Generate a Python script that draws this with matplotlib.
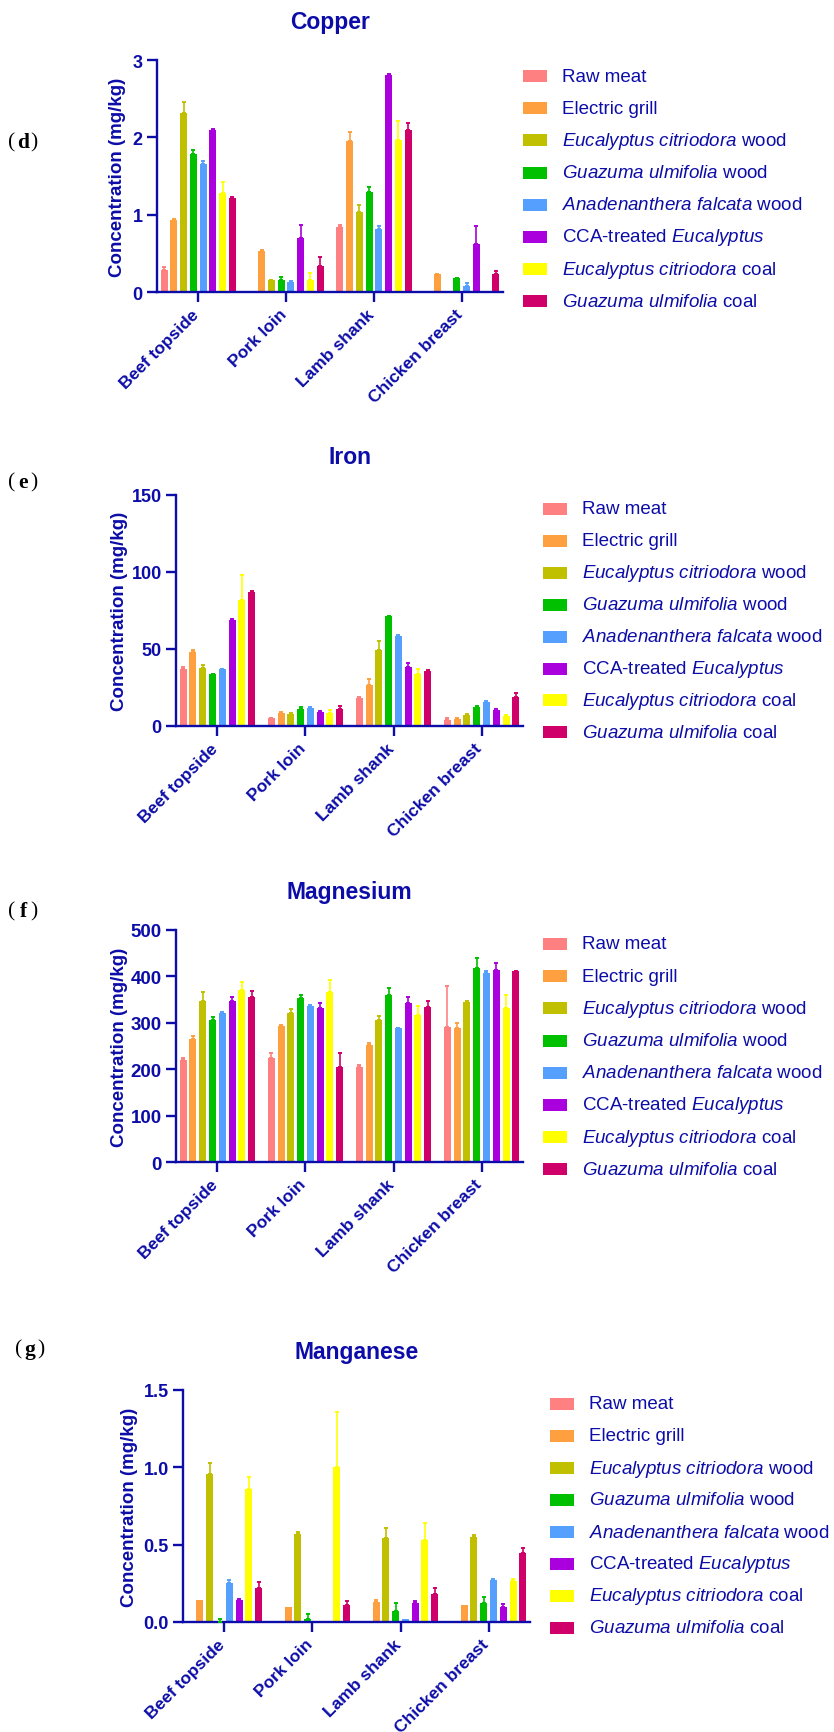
import numpy as np
import matplotlib
matplotlib.use("Agg")
import matplotlib.pyplot as plt
from matplotlib.patches import Rectangle
from matplotlib.transforms import ScaledTranslation

plt.rcParams['font.family'] = ['Liberation Sans', 'DejaVu Sans']
plt.rcParams['mathtext.fontset'] = 'custom'
plt.rcParams['mathtext.rm'] = 'Liberation Sans'
plt.rcParams['mathtext.it'] = 'Liberation Sans:italic'

nan = np.nan
cuts = ["Beef topside", "Pork loin", "Lamb shank", "Chicken breast"]
series = ["Raw meat", "Electric grill", r"$\it{Eucalyptus\ citriodora}$ wood",
          r"$\it{Guazuma\ ulmifolia}$ wood", r"$\it{Anadenanthera\ falcata}$ wood",
          r"CCA-treated $\it{Eucalyptus}$", r"$\it{Eucalyptus\ citriodora}$ coal",
          r"$\it{Guazuma\ ulmifolia}$ coal"]
colors = ["#FF8080", "#FFA040", "#C0C000", "#00C000", "#55A0FF", "#AA00DD", "#FFFF00", "#D0006A"]

# Copper (mg/kg): rows = series, cols = cuts
cu_mean = [[0.285, nan, 0.84, nan],
           [0.93, 0.53, 1.95, 0.23],
           [2.31, 0.155, 1.04, nan],
           [1.79, 0.16, 1.29, 0.18],
           [1.66, 0.13, 0.82, 0.08],
           [2.10, 0.70, 2.80, 0.625],
           [1.28, 0.16, 1.96, nan],
           [1.21, 0.33, 2.10, 0.23]]
cu_sd = [[0.035, 0, 0.02, 0],
         [0.01, 0.01, 0.12, 0.005],
         [0.15, 0.005, 0.09, 0],
         [0.04, 0.03, 0.07, 0.005],
         [0.03, 0.01, 0.03, 0.03],
         [0.01, 0.17, 0.02, 0.225],
         [0.14, 0.08, 0.25, 0],
         [0.02, 0.12, 0.09, 0.045]]

# Iron (mg/kg)
fe_mean = [[37.1, 5.0, 18.3, 4.1],
           [48.3, 8.4, 26.3, 4.8],
           [37.6, 8.0, 49.6, 7.3],
           [33.5, 11.2, 71.2, 12.6],
           [36.7, 11.9, 58.5, 15.5],
           [68.9, 8.8, 38.2, 10.5],
           [81.6, 8.6, 33.9, 6.5],
           [87.0, 11.0, 35.6, 18.6]]
fe_sd = [[1.5, 0.4, 0.7, 1.1],
         [1.3, 0.7, 3.9, 0.3],
         [2.1, 0.4, 5.4, 0.3],
         [0.4, 1.1, 0.5, 0.3],
         [0.4, 0.6, 0.6, 0.8],
         [0.4, 0.7, 2.6, 0.5],
         [16.4, 1.5, 2.8, 0.6],
         [0.4, 1.7, 0.7, 2.8]]

# Magnesium (mg/kg)
mg_mean = [[219, 225, 205, 291],
           [266, 293, 252, 288.5],
           [346, 321.6, 305, 345],
           [307, 353, 359, 418],
           [321, 336, 288, 406.5],
           [346, 331, 342, 413],
           [370.5, 365.5, 317, 332],
           [355, 205, 333, 411]]
mg_sd = [[4.5, 9, 5, 89],
         [4.5, 2, 5.5, 10],
         [21, 7.4, 9, 2],
         [4.5, 6, 15, 22],
         [1.5, 1.5, 1.5, 4.5],
         [9, 11, 13, 15],
         [16.5, 26.5, 20, 27],
         [14, 30, 14, 1]]

# Manganese (mg/kg)
mn_mean = [[nan, nan, nan, nan],
           [0.14, 0.10, 0.13, 0.108],
           [0.96, 0.57, 0.546, 0.55],
           [0.003, 0.017, 0.07, 0.12],
           [0.25, nan, 0.017, 0.27],
           [0.14, nan, 0.12, 0.097],
           [0.86, 1.00, 0.53, 0.268],
           [0.218, 0.11, 0.18, 0.449]]
mn_sd = [[0, 0, 0, 0],
         [0, 0, 0.01, 0],
         [0.07, 0.01, 0.064, 0.01],
         [0.017, 0.033, 0.05, 0.04],
         [0.02, 0, 0, 0.01],
         [0.01, 0, 0.018, 0.02],
         [0.08, 0.36, 0.113, 0.012],
         [0.042, 0.024, 0.042, 0.03]]

W, H = 834, 1733
BLUE = "#0C0CA8"
fig = plt.figure(figsize=(W / 100, H / 100), dpi=100)

panels = [
    dict(title="Copper", tag="d", mean=cu_mean, sd=cu_sd, ymax=3, ticks=[0, 1, 2, 3], fmt="{:g}",
         rect=(157, 503, 61, 293), ylab_x=117, leg=(523, 77, 32.2), tagpos=(23, 143), tfs=13),
    dict(title="Iron", tag="e", mean=fe_mean, sd=fe_sd, ymax=150, ticks=[0, 50, 100, 150], fmt="{:g}",
         rect=(176, 523, 496, 727), ylab_x=120, leg=(543, 510, 31.9), tagpos=(23, 483), tfs=13),
    dict(title="Magnesium", tag="f", mean=mg_mean, sd=mg_sd, ymax=500, ticks=[0, 100, 200, 300, 400, 500],
         fmt="{:g}", rect=(176, 523, 931, 1163), ylab_x=119, leg=(543, 945, 32.2), tagpos=(23, 912), tfs=13.5),
    dict(title="Manganese", tag="g", mean=mn_mean, sd=mn_sd, ymax=1.5, ticks=[0, 0.5, 1.0, 1.5],
         fmt="{:.1f}", rect=(183, 530, 1391, 1623), ylab_x=130, leg=(550, 1405, 32.0), tagpos=(30, 1350), tfs=13),
]

x = np.arange(len(cuts))
pitch = 0.111
bw = 0.08

for p in panels:
    l, r, t, b = p["rect"]
    ax = fig.add_axes([l / W, 1 - b / H, (r - l) / W, (b - t) / H])
    mean = np.array(p["mean"], dtype=float)
    sd = np.array(p["sd"], dtype=float)
    for i in range(len(series)):
        xs = x + (i - 3.5) * pitch
        ax.bar(xs, np.nan_to_num(mean[i], nan=0.0), width=bw, color=colors[i], linewidth=0, zorder=2)
        ok = (~np.isnan(mean[i])) & (sd[i] > 0)
        if ok.any():
            ax.errorbar(xs[ok], mean[i][ok], yerr=[np.zeros(ok.sum()), sd[i][ok]], fmt="none",
                        ecolor=colors[i], elinewidth=1.2, capsize=1.6, capthick=1.4, zorder=3)
    ax.set_xlim(-0.47, 3.47)
    ax.set_ylim(0, p["ymax"])
    for s in ["top", "right"]:
        ax.spines[s].set_visible(False)
    for s in ["left", "bottom"]:
        ax.spines[s].set_color(BLUE)
        ax.spines[s].set_linewidth(1.7)
    ax.set_yticks(p["ticks"])
    ax.set_yticklabels([p["fmt"].format(v) for v in p["ticks"]], fontsize=p["tfs"],
                       fontweight="bold", color=BLUE)
    ax.set_xticks(x)
    ax.set_xticklabels(cuts, rotation=45, ha="right", va="center", rotation_mode="anchor",
                       fontsize=12.5, fontweight="bold", color=BLUE)
    ax.tick_params(axis="both", direction="out", length=7.2, width=1.7, color=BLUE)
    ax.tick_params(axis="y", pad=3)
    ax.tick_params(axis="x", pad=7)
    off = ScaledTranslation(-2 / 100, 0, fig.dpi_scale_trans)
    for lab in ax.get_xticklabels():
        lab.set_transform(lab.get_transform() + off)
    ax.set_ylabel("Concentration (mg/kg)", fontsize=13.5, fontweight="bold", color=BLUE)
    ax.yaxis.set_label_coords((p["ylab_x"] - l) / (r - l), 0.5)
    ax.yaxis.label.set_va("center")
    # title
    fig.text(((l + r) / 2) / W, 1 - (t - 38) / H, p["title"], ha="center", va="center",
             fontsize=16.5, fontweight="bold", color=BLUE)
    # legend
    lx, ly, dy = p["leg"]
    for i, (lab, c) in enumerate(zip(series, colors)):
        yc = ly + i * dy
        fig.patches.append(Rectangle((lx / W, 1 - (yc + 6) / H), 24 / W, 12 / H,
                                     transform=fig.transFigure, facecolor=c, edgecolor="none"))
        fig.text((lx + 39) / W, 1 - yc / H, lab, ha="left", va="center", fontsize=13.5, color=BLUE)
    # panel tag
    tx, ty = p["tagpos"]
    fig.text((tx - 8) / W, 1 - ty / H, "(", ha="right", va="center", fontsize=15.5,
             family="Liberation Serif", color="black")
    fig.text(tx / W, 1 - ty / H, p["tag"], ha="center", va="center", fontsize=15.5,
             family="Liberation Serif", fontweight="bold", color="black")
    fig.text((tx + 7) / W, 1 - ty / H, ")", ha="left", va="center", fontsize=15.5,
             family="Liberation Serif", color="black")

fig.savefig("out.png", dpi=100, facecolor="white")
